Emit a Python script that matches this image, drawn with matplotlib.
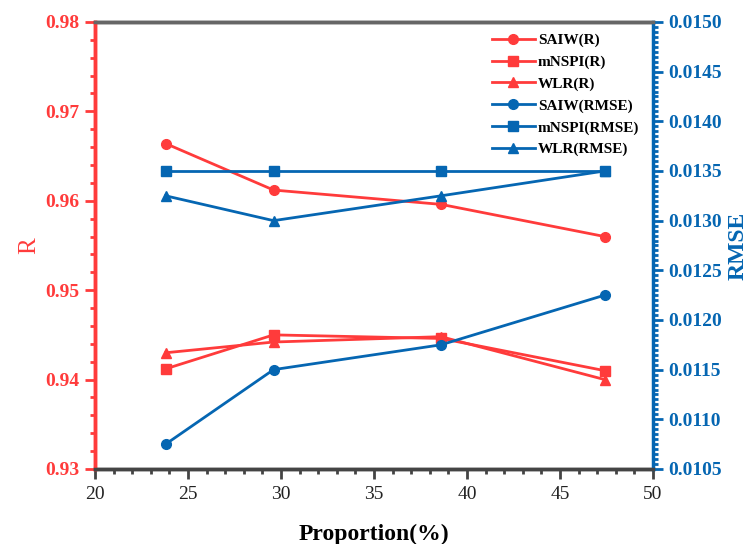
import matplotlib.pyplot as plt
from matplotlib.ticker import MultipleLocator, FormatStrFormatter

plt.rcParams['font.family'] = ['Liberation Serif', 'DejaVu Serif']

red = '#FF3B3B'
blue = '#0566B2'

proportion = [23.8, 29.6, 38.6, 47.4]

saiw_r = [0.9664, 0.9612, 0.9596, 0.9560]
mnspi_r = [0.9412, 0.9450, 0.9446, 0.9410]
wlr_r = [0.9430, 0.9442, 0.9448, 0.9400]

saiw_rmse = [0.01075, 0.01150, 0.01175, 0.01225]
mnspi_rmse = [0.01350, 0.01350, 0.01350, 0.01350]
wlr_rmse = [0.01325, 0.01300, 0.01325, 0.01350]

fig = plt.figure(figsize=(7.52, 5.44), dpi=100)
ax = fig.add_axes([0.1263, 0.1379, 0.7421, 0.8217])
ax2 = ax.twinx()

l1, = ax.plot(proportion, saiw_r, color=red, marker='o', ms=7, lw=2, label='SAIW(R)')
l2, = ax.plot(proportion, mnspi_r, color=red, marker='s', ms=6.5, lw=2, label='mNSPI(R)')
l3, = ax.plot(proportion, wlr_r, color=red, marker='^', ms=7, lw=2, label='WLR(R)')
l4, = ax2.plot(proportion, saiw_rmse, color=blue, marker='o', ms=7, lw=2, label='SAIW(RMSE)')
l5, = ax2.plot(proportion, mnspi_rmse, color=blue, marker='s', ms=6.5, lw=2, label='mNSPI(RMSE)')
l6, = ax2.plot(proportion, wlr_rmse, color=blue, marker='^', ms=7, lw=2, label='WLR(RMSE)')

ax.set_xlim(20, 50)
ax.set_ylim(0.93, 0.98)
ax2.set_ylim(0.0105, 0.0150)

ax.xaxis.set_major_locator(MultipleLocator(5))
ax.xaxis.set_minor_locator(MultipleLocator(1))
ax.yaxis.set_major_locator(MultipleLocator(0.01))
ax.yaxis.set_minor_locator(MultipleLocator(0.002))
ax.yaxis.set_major_formatter(FormatStrFormatter('%.2f'))
ax2.yaxis.set_major_locator(MultipleLocator(0.0005))
ax2.yaxis.set_minor_locator(MultipleLocator(0.00005))
ax2.yaxis.set_major_formatter(FormatStrFormatter('%.4f'))

for a in (ax, ax2):
    for s in a.spines.values():
        s.set_linewidth(2.5)
        s.set_color('#444444')
ax2.spines['top'].set_color('#666666')
ax2.spines['left'].set_color(red)
ax2.spines['right'].set_color(blue)
ax.spines['left'].set_color(red)
ax.spines['right'].set_visible(False)

ax.tick_params(axis='x', which='major', length=7, width=2, color='#444444',
               labelsize=14, labelcolor='#222222', pad=5)
ax.tick_params(axis='x', which='minor', length=3.5, width=2, color='#444444')
ax.tick_params(axis='y', which='major', length=7, width=2, color=red,
               labelsize=14, labelcolor=red, pad=4)
ax.tick_params(axis='y', which='minor', length=3.5, width=2, color=red)
ax2.tick_params(axis='y', which='major', length=7, width=2, color=blue,
                labelsize=14, labelcolor=blue, pad=4)
ax2.tick_params(axis='y', which='minor', length=3.5, width=2, color=blue)
for t in ax.get_yticklabels() + ax2.get_yticklabels():
    t.set_fontweight('bold')

ax.set_xlabel('Proportion(%)', fontsize=17, fontweight='bold', labelpad=15)
ax.set_ylabel('R', fontsize=18, color=red, labelpad=4)
ax2.set_ylabel('RMSE', fontsize=17, color=blue, fontweight='bold', labelpad=4)

ax.legend(handles=[l1, l2, l3, l4, l5, l6], loc='upper right', frameon=False,
          prop={'weight': 'bold', 'size': 11}, handlelength=2.8,
          labelspacing=0.52, handletextpad=0.2, bbox_to_anchor=(1.0, 1.005))

fig.savefig('out.png', dpi=100)
